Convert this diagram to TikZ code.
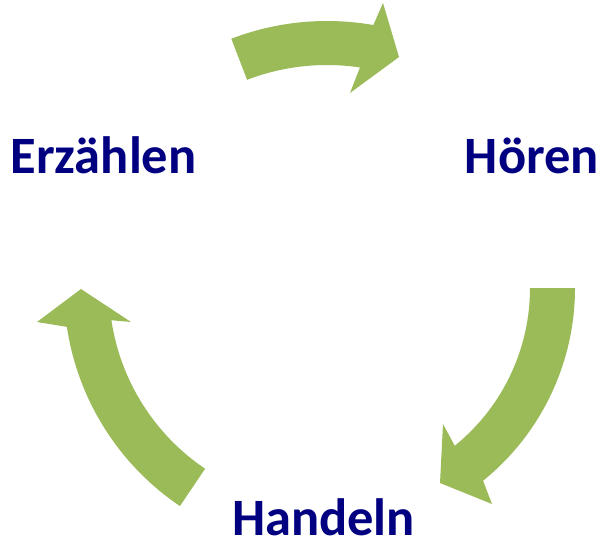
\documentclass[tikz,border=0pt]{standalone}
\usepackage{fontspec}
\setmainfont{Carlito}
\usetikzlibrary{calc}
\definecolor{navy}{RGB}{0,0,128}
\definecolor{leaf}{RGB}{155,187,89}
\begin{document}
\begin{tikzpicture}[x=1pt,y=-1pt,
  word/.style={font=\fontsize{52.5}{60}\selectfont\bfseries, text=navy, anchor=base, inner sep=0pt},
  blockarrow/.style={fill=leaf, draw=none}]
\useasboundingbox (0,0) rectangle (601,543);
\coordinate (C) at (327,288);
% top arrow
\fill[blockarrow] ($(C)+(-111:267)$) arc[start angle=-111, end angle=-80, radius=267]
  -- (383,3) -- (399,57) -- (350,93)
  -- ($(C)+(-81.5:223)$) arc[start angle=-81.5, end angle=-111, radius=223] -- cycle;
% right arrow
\fill[blockarrow] ($(C)+(0:248)$) arc[start angle=0, end angle=51, radius=248]
  -- (492,504) -- (440,483) -- (443,424)
  -- ($(C)+(51:203)$) arc[start angle=51, end angle=0, radius=203] -- cycle;
% left arrow
\fill[blockarrow] ($(C)+(124:263)$) arc[start angle=124, end angle=171.5, radius=263]
  -- (37,322) -- (81,289) -- (131,322)
  -- ($(C)+(171.5:218)$) arc[start angle=171.5, end angle=124, radius=218] -- cycle;
\node[word] (erz) at (103.5,173) {Erzählen};
\node[word] (hoer) at (532,173) {Hören};
\node[word] (hand) at (323.5,535) {Handeln};
\end{tikzpicture}
\end{document}
